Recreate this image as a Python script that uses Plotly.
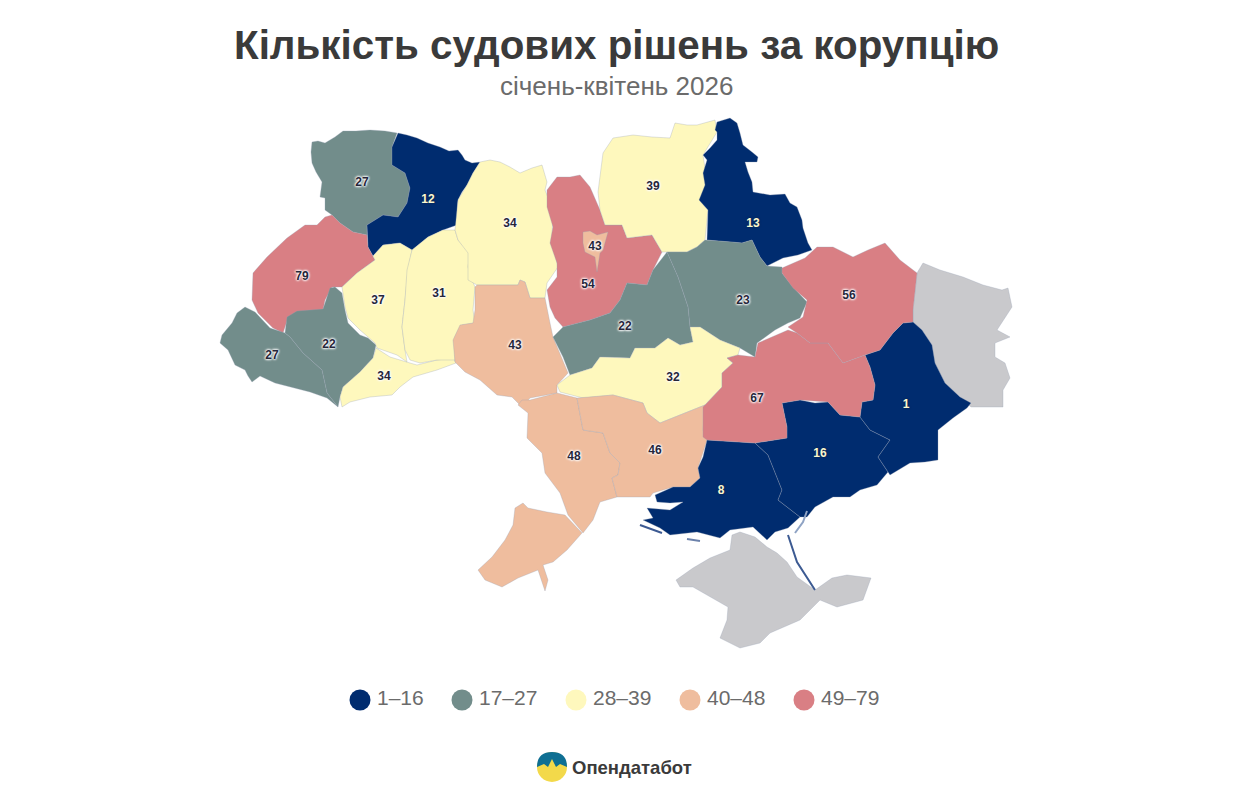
import plotly.graph_objects as go

# outlines (page pixels, y goes down)
volyn = [(312,142),(318,141),(325,143),(335,137),(343,131),(356,131),(370,130),(385,131),(397,133),(392,147),(392,165),(405,173),(410,188),(407,203),(398,217),(383,215),(367,225),(367,235),(353,232),(340,223),(332,215),(325,210),(325,198),(320,197),(322,182),(316,172),(312,163),(311,152)]
rivne = [(398,133),(407,135),(417,138),(428,143),(440,147),(449,151),(458,150),(462,155),(465,160),(472,163),(480,162),(473,173),(467,185),(462,192),(458,200),(457,212),(457,225),(443,230),(428,237),(412,250),(400,243),(383,245),(373,256),(368,247),(367,225),(383,215),(398,217),(407,203),(410,188),(405,173),(392,165),(392,147)]
lviv = [(325,217),(332,215),(340,223),(353,232),(367,235),(368,247),(375,260),(357,273),(342,287),(332,287),(325,300),(323,310),(300,312),(288,318),(283,333),(273,328),(258,313),(252,300),(253,273),(267,257),(287,238),(305,225),(317,225)]
frankivsk = [(335,287),(342,293),(345,310),(348,323),(360,335),(368,338),(376,345),(373,358),(360,372),(343,387),(340,397),(338,407),(327,393),(322,370),(303,353),(290,337),(285,333),(287,317),(297,311),(323,309),(326,300),(330,288)]
zakarpattia = [(245,307),(255,312),(270,328),(285,333),(290,337),(303,353),(322,370),(327,393),(338,407),(327,398),(310,392),(293,388),(275,383),(260,376),(252,382),(248,376),(245,370),(235,365),(231,356),(228,350),(220,343),(222,335),(232,323),(237,313)]
chernivtsi = [(376,348),(390,357),(410,363),(417,365),(437,360),(453,358),(456,363),(437,370),(413,377),(400,387),(392,395),(370,397),(350,402),(342,407),(340,397),(343,387),(360,372),(373,358)]
ternopil = [(375,260),(373,256),(383,245),(400,243),(412,250),(408,270),(405,300),(402,327),(405,350),(407,362),(397,355),(377,348),(375,343),(360,330),(348,318),(345,307),(342,287),(357,273)]
khmelnytskyi = [(412,250),(428,237),(443,230),(455,230),(458,240),(470,253),(468,267),(472,280),(475,287),(473,310),(475,323),(462,325),(455,337),(455,360),(437,360),(420,363),(410,360),(405,350),(402,327),(405,300),(407,270)]
zhytomyr = [(480,162),(490,160),(500,162),(510,167),(520,173),(532,168),(542,165),(547,182),(545,190),(553,210),(552,240),(558,267),(547,283),(545,298),(530,298),(525,282),(520,280),(518,285),(477,285),(468,280),(468,253),(458,240),(455,230),(458,200),(467,185),(473,173)]
vinnytsia = [(477,285),(518,285),(520,280),(525,282),(530,298),(545,298),(550,323),(553,337),(568,373),(557,385),(557,393),(530,398),(522,407),(512,397),(497,395),(480,380),(465,372),(455,362),(453,340),(460,325),(473,323),(475,310),(475,287)]
kyiv_obl = [(547,190),(557,177),(570,177),(580,175),(590,187),(600,210),(605,225),(622,225),(627,238),(652,235),(662,252),(653,270),(647,285),(627,283),(620,300),(610,313),(590,320),(563,327),(555,318),(550,307),(547,290),(557,277),(557,263),(550,243),(553,227),(547,207)]
kyiv_city = [(583,232),(590,231),(597,235),(608,232),(603,250),(600,253),(597,272),(595,257),(585,252),(583,243)]
chernihiv = [(598,192),(603,153),(613,138),(633,135),(652,137),(670,138),(675,123),(687,125),(697,125),(715,120),(717,132),(703,155),(707,182),(700,200),(708,210),(705,240),(697,247),(687,252),(667,252),(662,252),(652,235),(627,238),(622,225),(605,225),(600,210)]
sumy = [(715,130),(717,122),(730,118),(737,123),(740,133),(743,145),(752,152),(758,157),(757,162),(745,162),(748,172),(752,182),(753,192),(770,195),(785,194),(790,203),(797,207),(802,220),(803,228),(808,243),(812,250),(798,255),(783,258),(767,266),(760,257),(752,240),(742,243),(732,242),(707,240),(708,210),(699,200),(705,185),(703,173),(707,160),(703,155),(710,148),(717,140),(717,132)]
poltava = [(667,252),(687,252),(697,247),(705,240),(732,242),(742,243),(752,240),(760,257),(767,266),(782,267),(782,273),(793,287),(807,302),(800,318),(788,323),(775,330),(757,343),(755,357),(740,348),(720,340),(700,327),(690,327),(688,307),(678,277)]
cherkasy = [(667,252),(678,277),(688,307),(690,327),(693,342),(680,345),(668,338),(655,348),(635,348),(630,358),(600,357),(592,368),(570,375),(563,357),(553,337),(563,327),(590,320),(610,313),(620,300),(627,283),(647,285),(653,270)]
kirovohrad = [(570,375),(592,368),(600,357),(630,358),(635,348),(655,348),(668,338),(680,345),(693,342),(690,327),(700,327),(720,340),(740,348),(738,355),(727,358),(733,363),(722,373),(722,387),(705,405),(685,413),(660,423),(647,413),(643,403),(613,395),(583,398),(560,392),(557,385)]
odesa_north = [(522,400),(530,400),(557,393),(577,398),(583,430),(603,433),(610,453),(620,463),(618,475),(612,478),(617,497),(600,502),(593,520),(583,533),(568,515),(560,493),(545,473),(542,453),(527,438),(528,413),(518,405)]
odesa_south = [(515,508),(523,503),(528,508),(547,512),(565,515),(582,533),(567,550),(553,562),(543,565),(548,580),(545,591),(538,570),(518,578),(502,587),(485,580),(478,570),(492,557),(505,540),(513,525)]
mykolaiv = [(577,398),(613,395),(643,403),(647,413),(660,423),(685,413),(705,405),(703,430),(707,440),(698,468),(700,478),(690,487),(673,487),(653,493),(650,497),(637,497),(617,497),(612,478),(618,475),(620,463),(610,453),(603,433),(583,430)]
kherson = [(707,440),(703,457),(698,468),(700,478),(690,487),(673,487),(655,495),(657,502),(670,503),(683,502),(670,510),(647,508),(653,518),(643,520),(660,528),(670,535),(697,532),(720,538),(730,530),(753,527),(767,540),(775,532),(788,528),(800,517),(778,500),(782,490),(768,455),(755,443)]
zaporizhzhia = [(755,443),(787,438),(787,427),(782,403),(800,400),(815,403),(828,402),(840,415),(860,417),(870,430),(890,440),(878,457),(888,472),(877,485),(860,490),(850,497),(833,497),(815,507),(807,517),(800,517),(778,500),(782,490),(768,455)]
donetsk = [(903,323),(913,322),(922,330),(932,345),(935,363),(945,383),(960,397),(971,403),(967,408),(953,418),(938,430),(938,445),(938,460),(925,462),(910,463),(890,475),(888,472),(878,457),(890,440),(870,430),(860,417),(862,402),(873,400),(875,385),(870,367),(865,355),(880,350),(893,333)]
dnipro = [(703,437),(703,407),(705,405),(722,387),(722,373),(733,363),(727,358),(738,355),(755,357),(758,343),(788,330),(797,333),(810,343),(828,343),(843,363),(865,355),(870,367),(875,385),(873,400),(862,402),(860,417),(840,415),(828,402),(800,400),(782,403),(787,427),(787,438),(755,443),(707,440)]
kharkiv = [(782,268),(805,258),(817,247),(833,247),(853,257),(868,250),(885,243),(900,260),(917,273),(913,310),(913,322),(903,323),(893,333),(880,350),(865,355),(843,363),(828,343),(810,343),(797,333),(788,327),(803,317),(807,300),(793,288),(782,273)]
luhansk = [(923,263),(940,270),(963,277),(983,285),(1002,290),(1008,288),(1012,307),(997,330),(1010,337),(995,343),(995,357),(1005,363),(1010,378),(1003,390),(1003,407),(971,407),(960,397),(945,383),(935,363),(932,345),(922,330),(913,322),(913,310),(917,273)]
crimea = [(732,535),(740,532),(755,537),(767,547),(777,553),(787,562),(797,577),(815,590),(832,578),(847,575),(871,578),(863,600),(837,607),(820,600),(800,620),(770,633),(760,643),(740,648),(720,638),(727,620),(728,607),(710,597),(693,587),(680,587),(676,580),(693,568),(710,558),(730,550)]
tendra_spit = [(640,525),(662,533)]
dzharylhach = [(687,539),(700,541)]
arabat_spit = [(788,535),(797,562),(815,590)]
fedotova_spit = [(795,533),(803,522),(807,511)]

regions = [volyn, rivne, lviv, frankivsk, zakarpattia, chernivtsi, ternopil, khmelnytskyi, zhytomyr,
           vinnytsia, kyiv_obl, chernihiv, sumy, poltava, cherkasy, kirovohrad, odesa_north, odesa_south,
           mykolaiv, kherson, zaporizhzhia, donetsk, dnipro, kharkiv, kyiv_city]
region_values = [27, 12, 79, 22, 27, 34, 37, 31, 34,
                 43, 54, 39, 13, 23, 22, 32, 48, 48,
                 46, 8, 16, 1, 67, 56, 43]
no_data = [luhansk, crimea]

label_values = [27, 12, 79, 37, 31, 34, 27, 22, 34, 43, 43, 54, 39, 13, 23, 22, 32, 56, 67, 48, 46, 8, 16, 1]
label_x = [362, 428, 302, 378, 439, 510, 272, 329, 384, 515, 595, 588, 653, 753, 743, 625, 673, 849, 757, 574, 655, 721, 820, 906]
label_y = [183, 200, 277, 301, 294, 224, 356, 345, 377, 346, 247, 285, 187, 224, 301, 327, 378, 296, 399, 457, 451, 491, 454, 405]

bin_names = ['1–16', '17–27', '28–39', '40–48', '49–79']
bin_tops = [16, 27, 39, 48, 79]
bin_colors = ['#002c6f', '#728d8b', '#fef8bd', '#efbd9e', '#d97f84']
legend_x = [360, 462, 576, 690, 804]
legend_y = [700, 700, 700, 700, 700]
legend_text_x = [377, 479, 593, 707, 821]
GREY = '#c9c9cc'
FONT = 'Liberation Sans'


def bin_color(value):
    for top, color in zip(bin_tops, bin_colors):
        if value <= top:
            return color


def add_region(fig, points, color):
    fig.add_trace(go.Scatter(
        x = [p[0] for p in points] + [points[0][0]],
        y = [p[1] for p in points] + [points[0][1]],
        mode = 'lines',
        fill = 'toself',
        fillcolor = color,
        line = dict(color='rgba(150,160,180,0.3)', width=1),
        hoverinfo = 'skip',
    ))


fig = go.Figure()

for points in no_data:
    add_region(fig, points, GREY)
for points, value in zip(regions, region_values):
    add_region(fig, points, bin_color(value))

# thin spits along the coast
for spit, color, width in [(tendra_spit, '#3c5a92', 2), (dzharylhach, '#6c82ab', 2),
                           (arabat_spit, '#3c5a92', 2), (fedotova_spit, '#8fa3c4', 2)]:
    fig.add_trace(go.Scatter(
        x = [p[0] for p in spit],
        y = [p[1] for p in spit],
        mode = 'lines',
        line = dict(color=color, width=width),
        hoverinfo = 'skip',
    ))

# value labels, light on navy, dark with a white halo elsewhere
for dark_bin in [True, False]:
    picked = [i for i, v in enumerate(label_values) if (v <= bin_tops[0]) == dark_bin]
    fig.add_trace(go.Scatter(
        x = [label_x[i] for i in picked],
        y = [label_y[i] for i in picked],
        text = [str(label_values[i]) for i in picked],
        mode = 'text',
        textposition = 'middle center',
        textfont = dict(
            family = FONT,
            size = 12,
            weight = 'bold',
            color = '#fbf7cf' if dark_bin else '#26263a',
            shadow = '0 0 2px #10203f' if dark_bin else '0 0 2px #ffffff, 0 0 2px #ffffff, 0 0 3px #ffffff, 0 0 3px #ffffff',
        ),
        hoverinfo = 'skip',
    ))

# legend row
for color, x, y in zip(bin_colors, legend_x, legend_y):
    fig.add_trace(go.Scatter(
        x = [x],
        y = [y],
        mode = 'markers',
        marker = dict(size=21, color=color),
        hoverinfo = 'skip',
    ))
fig.add_trace(go.Scatter(
    x = legend_text_x,
    y = legend_y,
    text = bin_names,
    mode = 'text',
    textposition = 'middle right',
    textfont = dict(family=FONT, size=21, color='#6b6b6b'),
    hoverinfo = 'skip',
))

fig.update_layout(
    width = 1239,
    height = 800,
    margin = dict(l=0, r=0, t=0, b=0),
    showlegend = False,
    paper_bgcolor = 'white',
    plot_bgcolor = 'white',
    xaxis = dict(range=[0, 1239], visible=False, fixedrange=True),
    yaxis = dict(range=[800, 0], visible=False, fixedrange=True),
    annotations = [
        dict(x=616, y=45, text='<b>Кількість судових рішень за корупцію</b>', showarrow=False,
             font=dict(family=FONT, size=40.4, color='#3a3a3a')),
        dict(x=616, y=86, text='січень-квітень 2026', showarrow=False,
             font=dict(family=FONT, size=26, color='#6b6b6b')),
        dict(x=570, y=767, xanchor='left', text='<b>Опендатабот</b>', showarrow=False,
             font=dict(family=FONT, size=18.5, color='#3a3a3a')),
    ],
    shapes = [
        # logo: yellow disc with a blue cap
        dict(type='circle', x0=537, x1=567, y0=752, y1=782, fillcolor='#f3d94a', line_width=0),
        dict(type='path', path='M 537 767 Q 537 752 552 752 Q 567 752 567 767 L 560 764 L 556 767 L 552 759 L 548 767 L 544 764 Z',
             fillcolor='#0f6f93', line_width=0),
    ],
)

fig.write_html("out.html", config=dict(displayModeBar=False), post_script="document.body.style.margin='0';")
